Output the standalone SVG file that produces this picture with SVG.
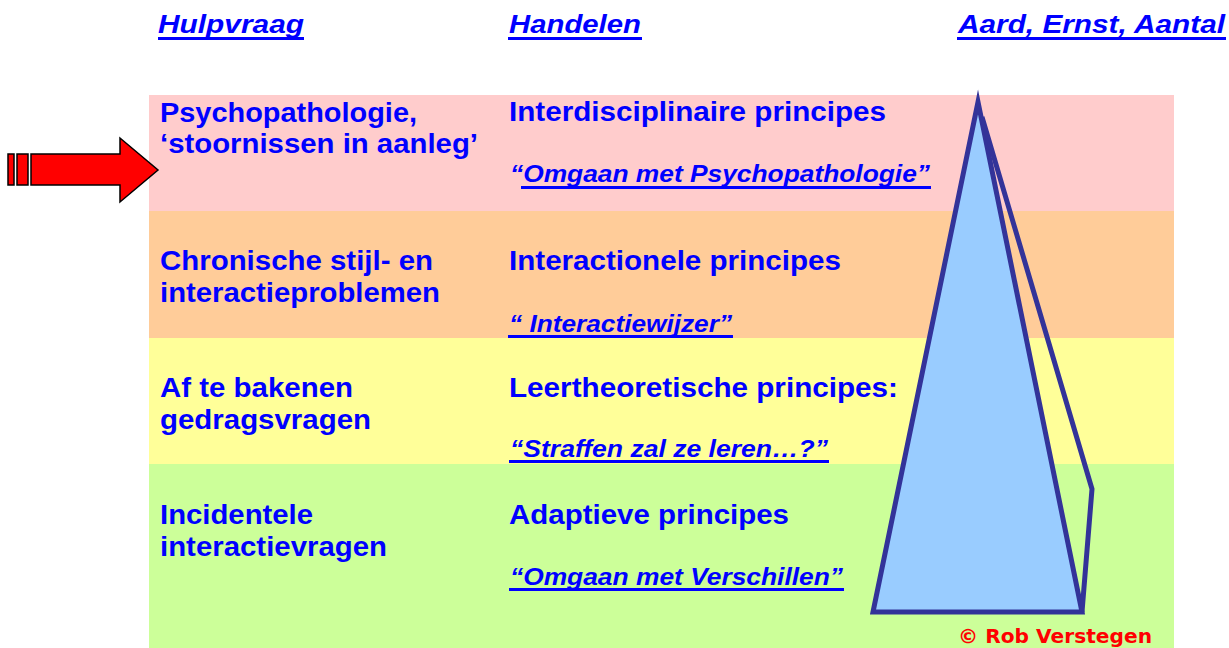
<svg xmlns="http://www.w3.org/2000/svg" width="1229" height="648" viewBox="0 0 1229 648">
<style>
.t{font-family:"Liberation Sans",Arial,sans-serif;font-weight:bold;fill:#0000FF;font-size:27px}
.i{font-family:"Liberation Sans",Arial,sans-serif;font-weight:bold;font-style:italic;fill:#0000FF;font-size:24px}
.h{font-family:"Liberation Sans",Arial,sans-serif;font-weight:bold;font-style:italic;fill:#0000FF;font-size:26px}
.u{fill:#0000FF}
.tri{fill:#99CCFF;stroke:#333399;stroke-width:5;stroke-linejoin:miter;stroke-miterlimit:20}
.edge{fill:none;stroke:#333399;stroke-width:5;stroke-linejoin:miter}
</style>
<g id="bands">
<rect x="149" y="95" width="1025" height="116" fill="#FFCCCC"/>
<rect x="149" y="211" width="1025" height="127" fill="#FFCC99"/>
<rect x="149" y="338" width="1025" height="126" fill="#FFFF99"/>
<rect x="149" y="464" width="1025" height="184" fill="#CCFF99"/>
</g>
<g id="headers">
<text class="h" x="158" y="33" textLength="146" lengthAdjust="spacingAndGlyphs">Hulpvraag</text>
<rect class="u" x="158" y="37" width="146" height="3"/>
<text class="h" x="509" y="33" textLength="132" lengthAdjust="spacingAndGlyphs">Handelen</text>
<rect class="u" x="508" y="37" width="134" height="3"/>
<text class="h" x="958" y="33" textLength="267" lengthAdjust="spacingAndGlyphs">Aard, Ernst, Aantal</text>
<rect class="u" x="957" y="37" width="269" height="3"/>
</g>
<g id="row1">
<text class="t" x="160" y="122" textLength="257" lengthAdjust="spacingAndGlyphs">Psychopathologie,</text>
<text class="t" x="160" y="153" textLength="318" lengthAdjust="spacingAndGlyphs">‘stoornissen in aanleg’</text>
<text class="t" x="509" y="121" textLength="377" lengthAdjust="spacingAndGlyphs">Interdisciplinaire principes</text>
<text class="i" x="510" y="182" textLength="420" lengthAdjust="spacingAndGlyphs">“Omgaan met Psychopathologie”</text>
<rect class="u" x="521" y="186" width="410" height="3"/>
</g>
<g id="row2">
<text class="t" x="160" y="270" textLength="273" lengthAdjust="spacingAndGlyphs">Chronische stijl- en</text>
<text class="t" x="160" y="302" textLength="280" lengthAdjust="spacingAndGlyphs">interactieproblemen</text>
<text class="t" x="509" y="270" textLength="332" lengthAdjust="spacingAndGlyphs">Interactionele principes</text>
<text class="i" x="509" y="332" textLength="223" lengthAdjust="spacingAndGlyphs">“ Interactiewijzer”</text>
<rect class="u" x="508" y="335" width="225" height="3"/>
</g>
<g id="row3">
<text class="t" x="160" y="397" textLength="193" lengthAdjust="spacingAndGlyphs">Af te bakenen</text>
<text class="t" x="160" y="429" textLength="211" lengthAdjust="spacingAndGlyphs">gedragsvragen</text>
<text class="t" x="509" y="397" textLength="389" lengthAdjust="spacingAndGlyphs">Leertheoretische principes:</text>
<text class="i" x="510" y="457" textLength="318" lengthAdjust="spacingAndGlyphs">“Straffen zal ze leren…?”</text>
<rect class="u" x="509" y="460" width="320" height="3"/>
</g>
<g id="row4">
<text class="t" x="160" y="524" textLength="153" lengthAdjust="spacingAndGlyphs">Incidentele</text>
<text class="t" x="160" y="556" textLength="227" lengthAdjust="spacingAndGlyphs">interactievragen</text>
<text class="t" x="509" y="524" textLength="280" lengthAdjust="spacingAndGlyphs">Adaptieve principes</text>
<text class="i" x="510" y="585" textLength="333" lengthAdjust="spacingAndGlyphs">“Omgaan met Verschillen”</text>
<rect class="u" x="509" y="588" width="335" height="3"/>
</g>
<g id="arrow" fill="#FF0000" stroke="#000000" stroke-width="1.5">
<rect x="8" y="154" width="6" height="31"/>
<rect x="17" y="154" width="11" height="31"/>
<polygon points="31,154 120,154 120,138 158,170 120,202 120,185 31,185"/>
</g>
<g id="pyramid">
<polygon class="tri" points="978,102 873,612 1082,612"/>
<polyline class="edge" points="982,117 1092,489 1082,612"/>
</g>
<g id="copyright">
<text x="958" y="643" font-family="'DejaVu Sans',Verdana,sans-serif" font-weight="bold" font-size="19" fill="#FF0000" textLength="194" lengthAdjust="spacingAndGlyphs">© Rob Verstegen</text>
</g>
</svg>
